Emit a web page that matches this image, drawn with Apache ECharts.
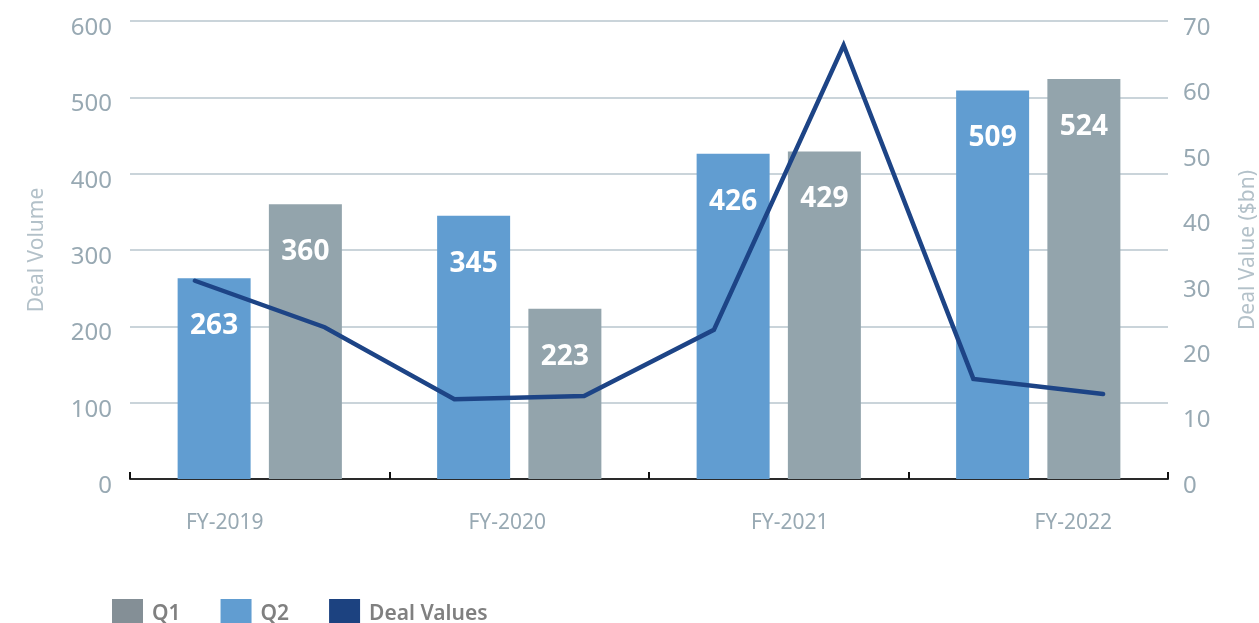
<!DOCTYPE html>
<html>
<head>
<meta charset="utf-8">
<script src="https://cdn.jsdelivr.net/npm/echarts@6/dist/echarts.min.js"></script>
<style>
html,body{margin:0;padding:0;background:#fff;}
#chart{width:1259px;height:623px;}
</style>
</head>
<body>
<div id="chart"></div>
<script>
const categories = ['FY-2019', 'FY-2020', 'FY-2021', 'FY-2022'];
const q2Values = [263, 345, 426, 509];
const q1Values = [360, 223, 429, 524];
const halfPeriods = ['FY-2019 a', 'FY-2019 b', 'FY-2020 a', 'FY-2020 b', 'FY-2021 a', 'FY-2021 b', 'FY-2022 a', 'FY-2022 b'];
const dealValues = [30.3, 23.2, 12.2, 12.7, 22.8, 66.3, 15.3, 13.0];
const volumeTicks = { min: 0, max: 600, interval: 100 };
const valueTicks = { min: 0, max: 70, interval: 10 };

const FONT = '"Noto Sans", "Open Sans", sans-serif';
const TICK_COLOR = '#98a9b3';
const TITLE_COLOR = '#b3c1c9';
const labelShift = ['s0', 's1', 's2', 's3'];

const chart = echarts.init(document.getElementById('chart'), null, { renderer: 'canvas' });

const barLabel = {
  show: true,
  position: 'insideTop',
  distance: 34,
  color: '#ffffff',
  fontSize: 28,
  fontWeight: 'bold',
  fontFamily: FONT
};

const yLabel = function (color) {
  return {
    fontSize: 24,
    color: color,
    fontFamily: FONT,
    formatter: function (v) { return '{d|' + v + '}'; },
    rich: { d: { fontSize: 24, color: color, fontFamily: FONT, padding: [14, 0, 0, 0] } }
  };
};

chart.setOption({
  animation: false,
  backgroundColor: '#ffffff',
  textStyle: { fontFamily: FONT },
  grid: { left: 130, right: 91, top: 21, bottom: 144, containLabel: false, outerBoundsMode: 'none' },
  legend: {
    left: 107,
    top: 594,
    itemWidth: 31,
    itemHeight: 30,
    itemGap: 40,
    icon: 'rect',
    selectedMode: false,
    textStyle: { fontSize: 21, color: '#808080', fontWeight: 600, fontFamily: FONT, padding: [0, 0, 0, 4] },
    data: [
      { name: 'Q1', itemStyle: { color: '#848f96' } },
      { name: 'Q2', itemStyle: { color: '#619dd1' } },
      { name: 'Deal Values', itemStyle: { color: '#1c4280' }, lineStyle: { width: 0 } }
    ]
  },
  xAxis: [
    {
      type: 'category',
      data: categories,
      boundaryGap: true,
      axisLine: { show: true, lineStyle: { color: '#2a2a2a', width: 2 } },
      axisTick: { show: true, inside: true, length: 7, lineStyle: { color: '#111', width: 2 } },
      splitLine: { show: false },
      axisLabel: {
        margin: 34,
        fontSize: 21,
        color: TICK_COLOR,
        fontFamily: FONT,
        formatter: function (v, i) { return '{' + labelShift[i] + '|' + v + '}'; },
        rich: {
          s0: { fontSize: 21, color: TICK_COLOR, fontFamily: FONT, padding: [0, 70, 0, 0] },
          s1: { fontSize: 21, color: TICK_COLOR, fontFamily: FONT, padding: [0, 24, 0, 0] },
          s2: { fontSize: 21, color: TICK_COLOR, fontFamily: FONT, padding: [0, 0, 0, 22] },
          s3: { fontSize: 21, color: TICK_COLOR, fontFamily: FONT, padding: [0, 0, 0, 70] }
        }
      }
    },
    {
      type: 'category',
      data: halfPeriods,
      boundaryGap: true,
      show: false
    }
  ],
  yAxis: [
    {
      type: 'value',
      min: volumeTicks.min,
      max: volumeTicks.max,
      interval: volumeTicks.interval,
      name: 'Deal Volume',
      nameLocation: 'middle',
      nameRotate: 90,
      nameGap: 82,
      nameTextStyle: { fontSize: 21, color: TITLE_COLOR, fontFamily: FONT },
      axisLine: { show: false },
      axisTick: { show: false },
      splitLine: { show: true, lineStyle: { color: '#b9c6ce', width: 1.5 } },
      axisLabel: Object.assign({ margin: 18 }, yLabel(TICK_COLOR))
    },
    {
      type: 'value',
      min: valueTicks.min,
      max: valueTicks.max,
      interval: valueTicks.interval,
      position: 'right',
      name: 'Deal Value ($bn)',
      nameLocation: 'middle',
      nameRotate: 90,
      nameGap: 70,
      nameTextStyle: { fontSize: 21, color: TITLE_COLOR, fontFamily: FONT },
      axisLine: { show: false },
      axisTick: { show: false },
      splitLine: { show: false },
      axisLabel: Object.assign({ margin: 15 }, yLabel(TICK_COLOR))
    }
  ],
  series: [
    {
      name: 'Q2',
      type: 'bar',
      xAxisIndex: 0,
      yAxisIndex: 0,
      data: q2Values,
      barWidth: 73,
      barGap: '25%',
      itemStyle: { color: '#619dd1' },
      label: barLabel,
      z: 2
    },
    {
      name: 'Q1',
      type: 'bar',
      xAxisIndex: 0,
      yAxisIndex: 0,
      data: q1Values,
      barWidth: 73,
      barGap: '25%',
      itemStyle: { color: '#93a4ac' },
      label: barLabel,
      z: 2
    },
    {
      name: 'Deal Values',
      type: 'line',
      xAxisIndex: 1,
      yAxisIndex: 1,
      data: dealValues,
      symbol: 'none',
      lineStyle: { color: '#1d4486', width: 4.5, cap: 'round', join: 'miter' },
      itemStyle: { color: '#1c4280' },
      z: 5
    }
  ]
});
</script>
</body>
</html>
